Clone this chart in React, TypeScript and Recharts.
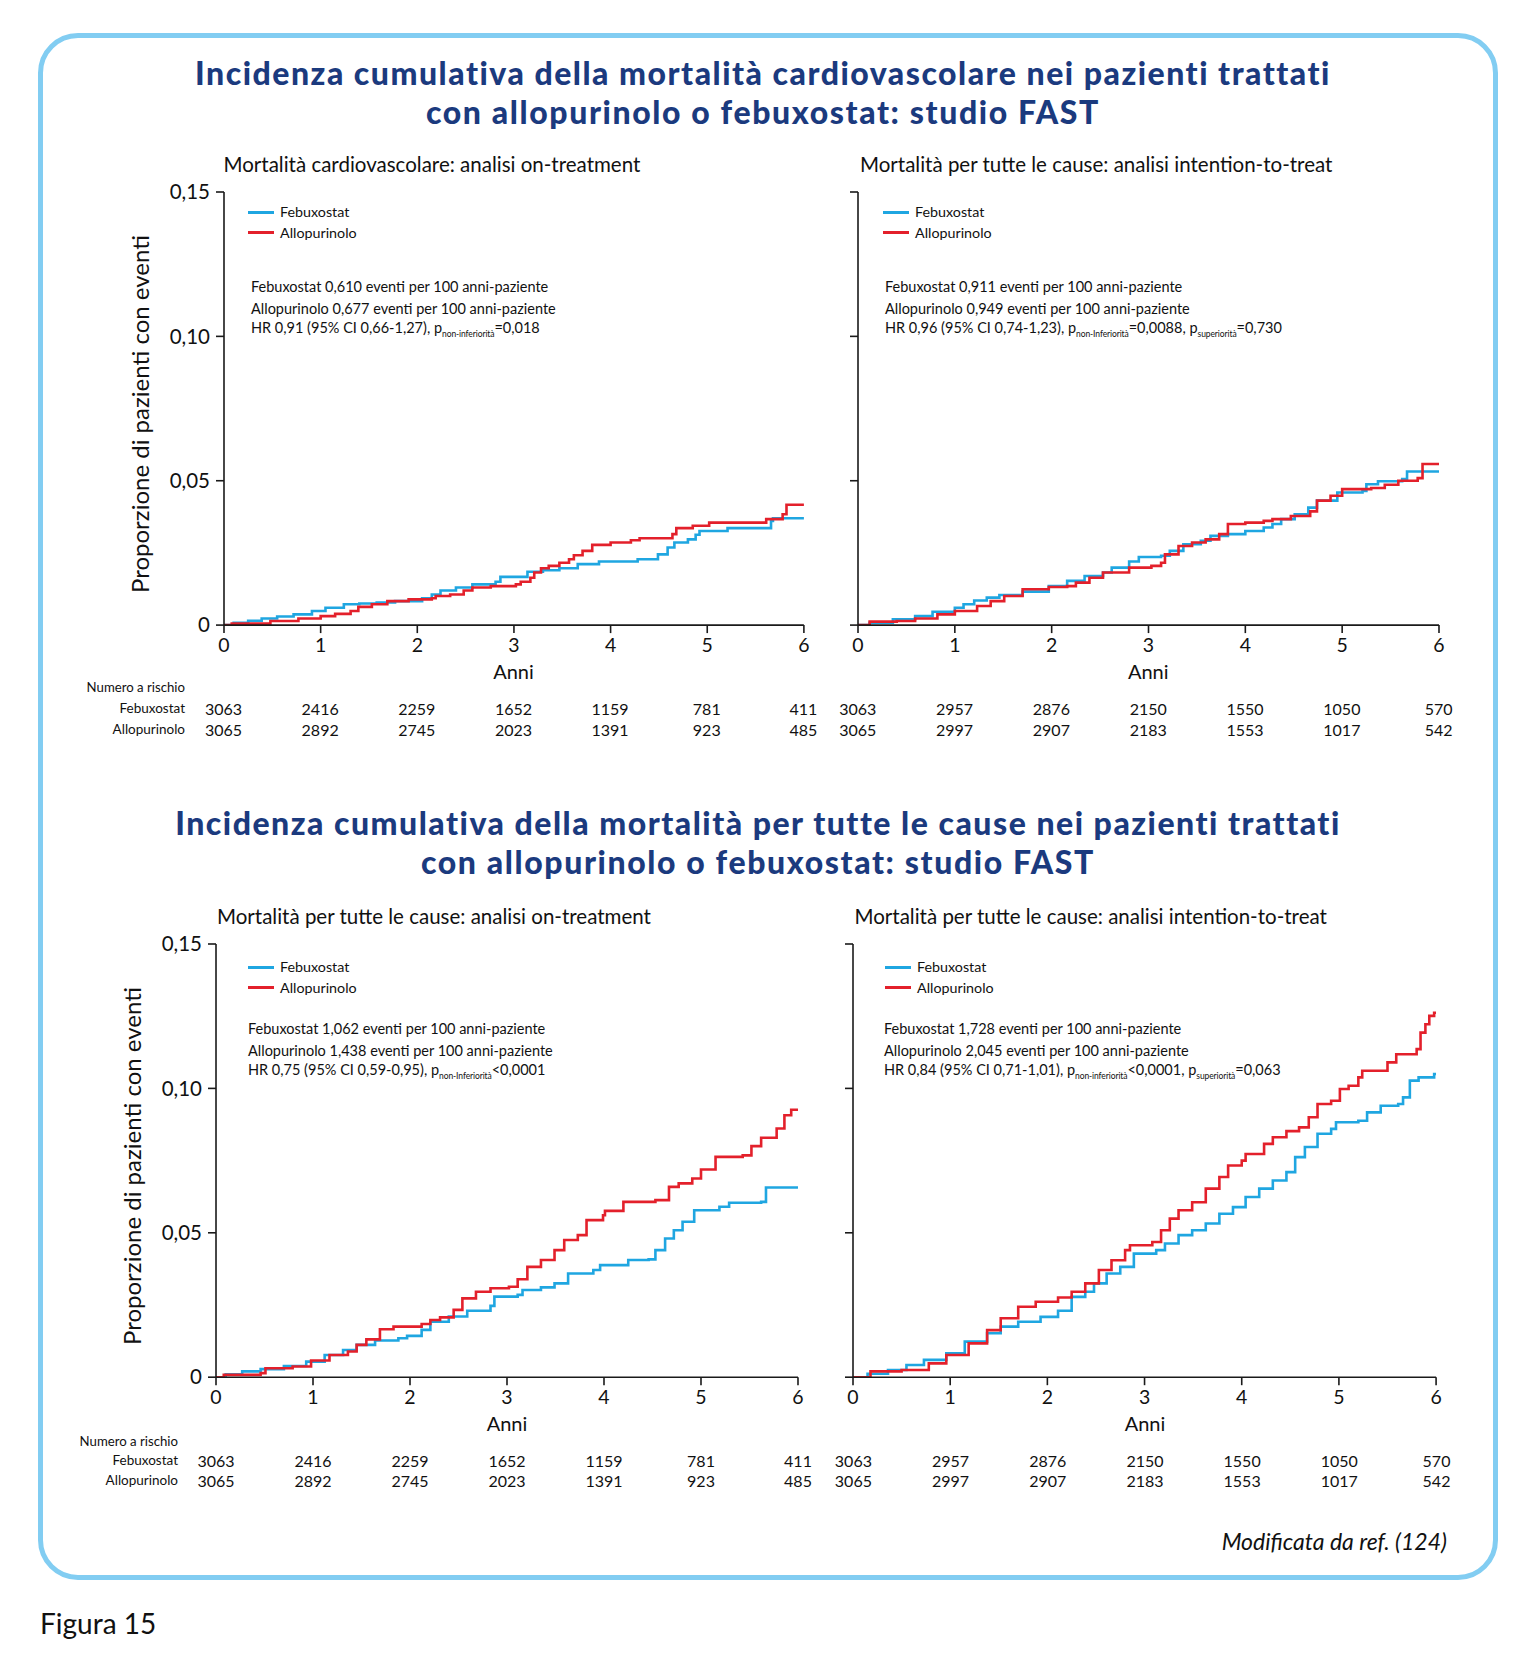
import React from 'react';
import { LineChart, Line, XAxis, YAxis } from 'recharts';

const FONT = 'Lato, "Open Sans", sans-serif';
const NAVY = '#1b3a7e';
const BLUE = '#1fa6e1';
const RED = '#e3202b';
const BORDER = '#82cdf2';

const years = [0, 1, 2, 3, 4, 5, 6];
const yTicks = [0, 0.05, 0.1, 0.15];
const yTickLabels = ['0', '0,05', '0,10', '0,15'];

// Panel A: cardiovascular mortality, on-treatment
const aFebT = [0, 0.1, 0.25, 0.39, 0.55, 0.72, 0.91, 1.05, 1.24, 1.4, 1.58, 1.77, 2.05, 2.15, 2.24, 2.4, 2.57, 2.81, 2.86, 3.14, 3.3, 3.47, 3.66, 3.88, 4.28, 4.49, 4.59, 4.66, 4.8, 4.88, 4.92, 5.21, 5.66, 5.68, 6.0];
const aFebV = [0, 0.0008, 0.0015, 0.0023, 0.003, 0.0037, 0.0049, 0.006, 0.0072, 0.0075, 0.0078, 0.0083, 0.0093, 0.0106, 0.012, 0.013, 0.0141, 0.015, 0.0167, 0.0185, 0.019, 0.0197, 0.0211, 0.022, 0.0228, 0.0245, 0.0269, 0.0286, 0.0297, 0.0313, 0.0326, 0.0336, 0.0361, 0.037, 0.037];
const aAlloT = [0, 0.08, 0.48, 0.77, 1.0, 1.15, 1.31, 1.39, 1.53, 1.69, 1.91, 2.15, 2.19, 2.34, 2.48, 2.57, 2.76, 3.02, 3.07, 3.17, 3.21, 3.28, 3.36, 3.47, 3.57, 3.62, 3.71, 3.81, 4.0, 4.21, 4.3, 4.64, 4.68, 4.85, 5.02, 5.61, 5.78, 5.82, 6.0];
const aAlloV = [0, 0.0005, 0.0014, 0.0023, 0.0031, 0.0039, 0.0049, 0.0063, 0.0072, 0.0083, 0.0089, 0.0093, 0.0101, 0.0106, 0.012, 0.013, 0.0135, 0.0141, 0.015, 0.0164, 0.0182, 0.0197, 0.0205, 0.0216, 0.0228, 0.0242, 0.0257, 0.0278, 0.0286, 0.0294, 0.0301, 0.0315, 0.0336, 0.0344, 0.0355, 0.0367, 0.0384, 0.0417, 0.0417];

// Panel B: all-cause mortality, intention-to-treat (top)
const bFebT = [0, 0.12, 0.36, 0.59, 0.77, 1.0, 1.09, 1.2, 1.33, 1.46, 1.7, 1.97, 2.16, 2.34, 2.53, 2.62, 2.8, 2.9, 3.13, 3.22, 3.36, 3.54, 3.64, 3.82, 4.0, 4.19, 4.28, 4.37, 4.51, 4.65, 4.74, 4.95, 5.21, 5.25, 5.37, 5.62, 5.67, 6.0];
const bFebV = [0, 0.0008, 0.002, 0.0031, 0.0046, 0.006, 0.0072, 0.0085, 0.0095, 0.0104, 0.0116, 0.0135, 0.0153, 0.017, 0.0182, 0.0199, 0.022, 0.0236, 0.024, 0.0257, 0.028, 0.0292, 0.0309, 0.0315, 0.0326, 0.0338, 0.035, 0.0367, 0.0384, 0.0407, 0.0431, 0.0459, 0.0465, 0.0488, 0.0498, 0.0506, 0.0532, 0.0532];
const bAlloT = [0, 0.12, 0.4, 0.59, 0.82, 1.0, 1.23, 1.37, 1.51, 1.7, 1.97, 2.16, 2.25, 2.39, 2.53, 2.8, 3.03, 3.13, 3.17, 3.31, 3.45, 3.59, 3.73, 3.82, 4.0, 4.19, 4.28, 4.47, 4.67, 4.74, 4.88, 5.0, 5.3, 5.44, 5.58, 5.78, 5.83, 6.0];
const bAlloV = [0, 0.0012, 0.0014, 0.0023, 0.0037, 0.0049, 0.0066, 0.0083, 0.0101, 0.0124, 0.0132, 0.0135, 0.0147, 0.0164, 0.0182, 0.0199, 0.0205, 0.0216, 0.0245, 0.0274, 0.0286, 0.0297, 0.0315, 0.035, 0.0355, 0.0361, 0.0367, 0.0378, 0.0394, 0.0431, 0.0448, 0.0471, 0.0475, 0.0486, 0.05, 0.0509, 0.0558, 0.0558];

// Panel C: all-cause mortality, on-treatment
const cFebT = [0, 0.1, 0.27, 0.46, 0.7, 0.93, 1.12, 1.31, 1.45, 1.64, 1.88, 1.97, 2.12, 2.21, 2.4, 2.59, 2.83, 2.87, 3.11, 3.16, 3.35, 3.49, 3.63, 3.89, 3.96, 4.25, 4.46, 4.53, 4.63, 4.72, 4.81, 4.93, 5.19, 5.29, 5.62, 5.67, 6.0];
const cFebV = [0, 0.001, 0.002, 0.0028, 0.0039, 0.0054, 0.0077, 0.0094, 0.0112, 0.0127, 0.0135, 0.0143, 0.0164, 0.0192, 0.021, 0.023, 0.0247, 0.0279, 0.0285, 0.0302, 0.0311, 0.0325, 0.0359, 0.0371, 0.0388, 0.0406, 0.0408, 0.044, 0.048, 0.0509, 0.0538, 0.0578, 0.059, 0.0604, 0.0607, 0.0657, 0.0657];
const cAlloT = [0, 0.08, 0.46, 0.51, 0.79, 0.98, 1.17, 1.36, 1.45, 1.55, 1.69, 1.83, 2.12, 2.21, 2.31, 2.45, 2.54, 2.68, 2.83, 3.02, 3.11, 3.21, 3.35, 3.49, 3.59, 3.73, 3.82, 3.99, 4.01, 4.2, 4.53, 4.67, 4.77, 4.91, 5.0, 5.15, 5.43, 5.52, 5.62, 5.78, 5.86, 5.93, 6.0];
const cAlloV = [0, 0.0008, 0.0014, 0.0031, 0.0037, 0.0058, 0.0077, 0.0089, 0.0112, 0.0131, 0.0166, 0.0175, 0.0184, 0.0198, 0.0207, 0.0233, 0.0273, 0.0296, 0.0308, 0.0313, 0.0339, 0.0382, 0.0406, 0.044, 0.0475, 0.0492, 0.0544, 0.0561, 0.0576, 0.0607, 0.0613, 0.0659, 0.0671, 0.0688, 0.0719, 0.0763, 0.0768, 0.08, 0.0829, 0.0861, 0.0907, 0.0926, 0.0926];

// Panel D: all-cause mortality, intention-to-treat (bottom)
const dFebT = [0, 0.15, 0.36, 0.55, 0.73, 0.96, 1.15, 1.38, 1.52, 1.7, 1.93, 2.11, 2.25, 2.39, 2.48, 2.61, 2.75, 2.89, 3.12, 3.21, 3.35, 3.49, 3.63, 3.77, 3.91, 4.04, 4.18, 4.32, 4.46, 4.55, 4.65, 4.78, 4.92, 4.97, 5.2, 5.29, 5.43, 5.61, 5.66, 5.73, 5.82, 5.98, 6.0];
const dFebV = [0, 0.0012, 0.0025, 0.0042, 0.006, 0.0083, 0.0123, 0.0152, 0.0175, 0.0192, 0.0209, 0.023, 0.0278, 0.0296, 0.0325, 0.0359, 0.0382, 0.0428, 0.044, 0.0463, 0.0492, 0.0509, 0.0532, 0.0566, 0.0589, 0.0624, 0.0653, 0.0681, 0.071, 0.0762, 0.0797, 0.0843, 0.086, 0.0883, 0.0888, 0.0917, 0.094, 0.0946, 0.0969, 0.1027, 0.1038, 0.105, 0.105];
const dAlloT = [0, 0.18, 0.5, 0.78, 0.96, 1.19, 1.38, 1.52, 1.7, 1.88, 2.11, 2.25, 2.39, 2.53, 2.66, 2.8, 2.85, 3.08, 3.17, 3.26, 3.35, 3.49, 3.63, 3.77, 3.86, 4.0, 4.04, 4.23, 4.32, 4.46, 4.59, 4.69, 4.78, 4.92, 5.01, 5.1, 5.2, 5.24, 5.5, 5.59, 5.8, 5.84, 5.89, 5.93, 5.98, 6.0];
const dAlloV = [0, 0.002, 0.0025, 0.0048, 0.0077, 0.0117, 0.0163, 0.0204, 0.0244, 0.0261, 0.0276, 0.0296, 0.0325, 0.0371, 0.0405, 0.044, 0.0457, 0.0468, 0.0509, 0.0549, 0.0578, 0.0606, 0.0653, 0.0693, 0.0733, 0.075, 0.0773, 0.0808, 0.0831, 0.0852, 0.0865, 0.09, 0.0946, 0.0957, 0.0998, 0.1009, 0.1038, 0.1061, 0.109, 0.1118, 0.1136, 0.1193, 0.1222, 0.1251, 0.1262, 0.1262];

// Numbers at risk
const riskOnFeb = [3063, 2416, 2259, 1652, 1159, 781, 411];
const riskOnAllo = [3065, 2892, 2745, 2023, 1391, 923, 485];
const riskIttFeb = [3063, 2957, 2876, 2150, 1550, 1050, 570];
const riskIttAllo = [3065, 2997, 2907, 2183, 1553, 1017, 542];

const zip = (t: number[], v: number[]) => t.map((x, i) => ({ t: x, v: v[i] }));

type TxtProps = {
  x: number; y: number; align?: 'left' | 'center' | 'right'; size: number;
  weight?: number; color?: string; italic?: boolean; ls?: number; children: React.ReactNode;
};
function Txt({ x, y, align = 'left', size, weight = 400, color = '#111', italic = false, ls = 0, children }: TxtProps) {
  const tx = align === 'left' ? '0' : align === 'center' ? '-50%' : '-100%';
  return (
    <div
      style={{
        position: 'absolute', left: x, top: y, transform: `translate(${tx}, -50%)`,
        whiteSpace: 'nowrap', lineHeight: 1, fontSize: size, fontWeight: weight,
        color, fontStyle: italic ? 'italic' : 'normal', fontFamily: FONT, letterSpacing: ls,
      }}
    >
      {children}
    </div>
  );
}

const Sub = ({ children }: { children: React.ReactNode }) => (
  <span style={{ fontSize: 8.5, verticalAlign: 'sub', letterSpacing: -0.1 }}>{children}</span>
);

type PanelProps = {
  plotL: number; plotR: number; plotT: number; plotB: number;
  showY: boolean; subtitle: string; subX: number; subY: number;
  legX: number; legY: number; annX: number; annY: number; annot: React.ReactNode[];
  feb: { t: number; v: number }[]; allo: { t: number; v: number }[];
  riskFeb: number[]; riskAllo: number[]; labelRight?: number; rowY: number[];
};

function Panel(p: PanelProps) {
  const padL = 100, padT = 20, padR = 30, padB = 60;
  const w = p.plotR - p.plotL + padL + padR;
  const h = p.plotB - p.plotT + padT + padB;
  const xAt = (t: number) => p.plotL + ((p.plotR - p.plotL) * t) / 6;
  return (
    <>
      <Txt x={p.subX} y={p.subY} size={20.5}>{p.subtitle}</Txt>
      <div style={{ position: 'absolute', left: p.plotL - padL, top: p.plotT - padT }}>
        <LineChart width={w} height={h} margin={{ top: padT, right: padR, left: padL - 60, bottom: padB - 40 }}>
          <XAxis
            type="number" dataKey="t" domain={[0, 6]} ticks={years} interval={0}
            allowDataOverflow height={40} tickSize={8} tickMargin={5}
            stroke="#1a1a1a" strokeWidth={1.6}
            tick={{ fontSize: 19.5, fill: '#111', fontFamily: FONT }}
          />
          <YAxis
            type="number" domain={[0, 0.15]} ticks={yTicks} interval={0}
            allowDataOverflow width={60} tickSize={8} tickMargin={6}
            stroke="#1a1a1a" strokeWidth={1.6}
            tickFormatter={(v: number) => (p.showY ? yTickLabels[yTicks.indexOf(v)] ?? '' : '')}
            tick={{ fontSize: 20.5, fill: '#111', fontFamily: FONT }}
          />
          <Line data={p.feb} dataKey="v" type="stepAfter" stroke={BLUE} strokeWidth={2.6} dot={false} isAnimationActive={false} />
          <Line data={p.allo} dataKey="v" type="stepAfter" stroke={RED} strokeWidth={2.6} dot={false} isAnimationActive={false} />
        </LineChart>
      </div>
      {/* legend */}
      <div style={{ position: 'absolute', left: p.legX, top: p.legY - 1.5, width: 26, height: 3, background: BLUE }} />
      <div style={{ position: 'absolute', left: p.legX, top: p.legY + 20.5 - 1.5, width: 26, height: 3, background: RED }} />
      <Txt x={p.legX + 32} y={p.legY} size={14.3}>Febuxostat</Txt>
      <Txt x={p.legX + 32} y={p.legY + 20.5} size={14.3}>Allopurinolo</Txt>
      {/* annotation */}
      {p.annot.map((a, i) => (
        <Txt key={i} x={p.annX} y={p.annY + i * 21.5} size={14.5}>{a}</Txt>
      ))}
      {/* Anni */}
      <Txt x={(p.plotL + p.plotR) / 2} y={p.plotB + 46} align="center" size={20}>Anni</Txt>
      {/* risk table */}
      {p.labelRight !== undefined && (
        <>
          <Txt x={p.labelRight} y={p.rowY[0]} align="right" size={13.2}>Numero a rischio</Txt>
          <Txt x={p.labelRight} y={p.rowY[1]} align="right" size={13.5}>Febuxostat</Txt>
          <Txt x={p.labelRight} y={p.rowY[2]} align="right" size={13.5}>Allopurinolo</Txt>
        </>
      )}
      {p.riskFeb.map((n, i) => (
        <Txt key={'f' + i} x={xAt(years[i])} y={p.rowY[1]} align="center" size={16}>{n}</Txt>
      ))}
      {p.riskAllo.map((n, i) => (
        <Txt key={'a' + i} x={xAt(years[i])} y={p.rowY[2]} align="center" size={16}>{n}</Txt>
      ))}
    </>
  );
}

function YLabel({ x, y }: { x: number; y: number }) {
  return (
    <div
      style={{
        position: 'absolute', left: x, top: y, transform: 'translate(-50%, -50%) rotate(-90deg)',
        whiteSpace: 'nowrap', lineHeight: 1, fontSize: 24, fontFamily: FONT, color: '#111',
      }}
    >
      Proporzione di pazienti con eventi
    </div>
  );
}

export default function App() {
  return (
    <div style={{ position: 'absolute', left: 0, top: 0, width: 1527, height: 1669, background: '#fff', overflow: 'hidden', fontFamily: FONT }}>
      <div
        style={{
          position: 'absolute', left: 38, top: 33, width: 1460, height: 1547, boxSizing: 'border-box',
          border: `5px solid ${BORDER}`, borderRadius: 40,
        }}
      />
      <Txt x={763} y={73} align="center" size={32} weight={900} color={NAVY} ls={1.5}>
        Incidenza cumulativa della mortalità cardiovascolare nei pazienti trattati
      </Txt>
      <Txt x={763} y={112} align="center" size={32} weight={900} color={NAVY} ls={1.6}>
        con allopurinolo o febuxostat: studio FAST
      </Txt>
      <Txt x={758} y={822.5} align="center" size={32} weight={900} color={NAVY} ls={1.5}>
        Incidenza cumulativa della mortalità per tutte le cause nei pazienti trattati
      </Txt>
      <Txt x={758} y={862} align="center" size={32} weight={900} color={NAVY} ls={1.6}>
        con allopurinolo o febuxostat: studio FAST
      </Txt>

      <YLabel x={139.5} y={414} />
      <YLabel x={132} y={1166} />

      <Panel
        plotL={223.5} plotR={803.4} plotT={191.5} plotB={624.6} showY
        subtitle="Mortalità cardiovascolare: analisi on-treatment" subX={223.5} subY={164}
        legX={248} legY={212} annX={251} annY={287}
        annot={[
          'Febuxostat 0,610 eventi per 100 anni-paziente',
          'Allopurinolo 0,677 eventi per 100 anni-paziente',
          <>HR 0,91 (95% CI 0,66-1,27), p<Sub>non-inferiorità</Sub>=0,018</>,
        ]}
        feb={zip(aFebT, aFebV)} allo={zip(aAlloT, aAlloV)}
        riskFeb={riskOnFeb} riskAllo={riskOnAllo} labelRight={185} rowY={[688, 709, 730]}
      />
      <Panel
        plotL={857.7} plotR={1438.7} plotT={191.5} plotB={624.6} showY={false}
        subtitle="Mortalità per tutte le cause: analisi intention-to-treat" subX={860} subY={164}
        legX={883} legY={212} annX={885} annY={287}
        annot={[
          'Febuxostat 0,911 eventi per 100 anni-paziente',
          'Allopurinolo 0,949 eventi per 100 anni-paziente',
          <>HR 0,96 (95% CI 0,74-1,23), p<Sub>non-Inferiorità</Sub>=0,0088, p<Sub>superiorità</Sub>=0,730</>,
        ]}
        feb={zip(bFebT, bFebV)} allo={zip(bAlloT, bAlloV)}
        riskFeb={riskIttFeb} riskAllo={riskIttAllo} rowY={[688, 709, 730]}
      />
      <Panel
        plotL={216} plotR={798} plotT={943.8} plotB={1377} showY
        subtitle="Mortalità per tutte le cause: analisi on-treatment" subX={217} subY={916}
        legX={248} legY={967} annX={248} annY={1029}
        annot={[
          'Febuxostat 1,062 eventi per 100 anni-paziente',
          'Allopurinolo 1,438 eventi per 100 anni-paziente',
          <>HR 0,75 (95% CI 0,59-0,95), p<Sub>non-Inferiorità</Sub>&lt;0,0001</>,
        ]}
        feb={zip(cFebT, cFebV)} allo={zip(cAlloT, cAlloV)}
        riskFeb={riskOnFeb} riskAllo={riskOnAllo} labelRight={178} rowY={[1442, 1461, 1481]}
      />
      <Panel
        plotL={853.4} plotR={1436.5} plotT={943.8} plotB={1377} showY={false}
        subtitle="Mortalità per tutte le cause: analisi intention-to-treat" subX={854.5} subY={916}
        legX={885} legY={967} annX={884} annY={1029}
        annot={[
          'Febuxostat 1,728 eventi per 100 anni-paziente',
          'Allopurinolo 2,045 eventi per 100 anni-paziente',
          <>HR 0,84 (95% CI 0,71-1,01), p<Sub>non-inferiorità</Sub>&lt;0,0001, p<Sub>superiorità</Sub>=0,063</>,
        ]}
        feb={zip(dFebT, dFebV)} allo={zip(dAlloT, dAlloV)}
        riskFeb={riskIttFeb} riskAllo={riskIttAllo} rowY={[1442, 1461, 1481]}
      />

      <Txt x={1447} y={1541} align="right" size={23} italic>Modificata da ref. (124)</Txt>
      <Txt x={40} y={1623} size={28}>Figura 15</Txt>
    </div>
  );
}
